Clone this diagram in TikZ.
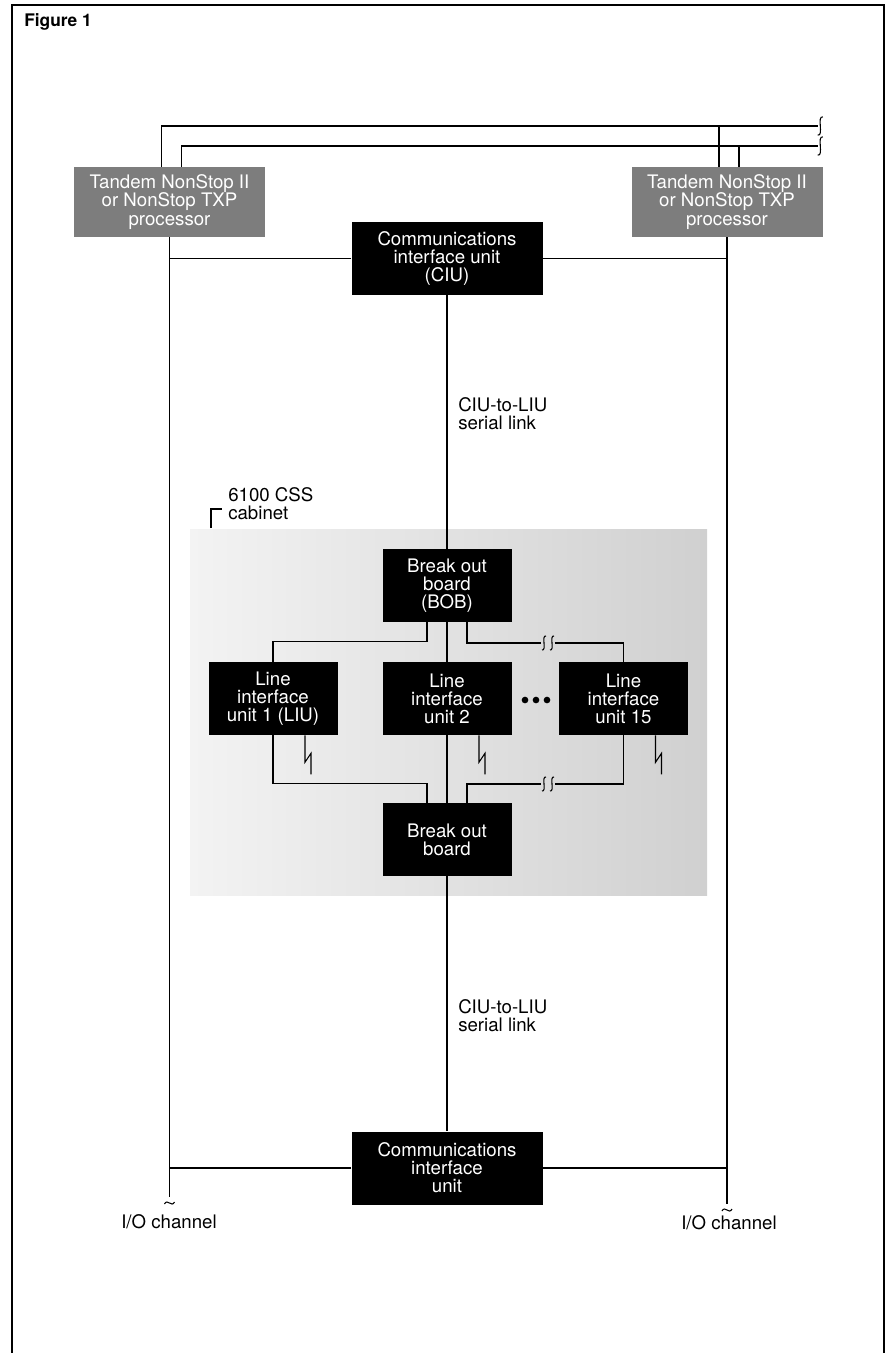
\documentclass[tikz,border=0pt]{standalone}
\usepackage{fontspec}
\setmainfont{TeX Gyre Heros}
\usetikzlibrary{positioning,calc}
\definecolor{procGray}{RGB}{125,125,125}
\definecolor{cabLight}{RGB}{243,243,243}
\definecolor{cabDark}{RGB}{208,208,208}

\begin{document}
\begin{tikzpicture}[x=0.75pt,y=-0.75pt,
    unit/.style={fill=black,text=white,align=center,inner sep=0pt,
                 minimum width=96.75pt,minimum height=54.75pt,
                 font=\fontsize{14}{13.6}\selectfont},
    wide/.style={unit,minimum width=143.25pt},
    proc/.style={wide,fill=procGray,minimum height=52.5pt},
    lbl/.style={align=left,inner sep=0pt,font=\fontsize{14}{13.3}\selectfont},
    wire/.style={line width=0.8pt},
    brk/.pic={\draw[wire] (3,-7) .. controls (-2,-8) and (4,8) .. (-1,7);},
    iobrk/.pic={\draw[wire] (-5,2) .. controls (-2,-4) and (2,6) .. (5,0);}
  ]
  \useasboundingbox (0,0) rectangle (890,1353);
  \fill[white] (0,0) rectangle (890,1353);

  % cabinet area
  \shade[left color=cabLight,right color=cabDark] (190,529) rectangle (707,895);

  % frame
  \draw[line width=1.1pt] (12,1353) -- (12,5) -- (884,5) -- (884,1353);
  \node[anchor=west,inner sep=0pt,font=\bfseries\fontsize{13}{13}\selectfont] (fig) at (24,22) {Figure 1};

  \node[proc] (proc1) at (169.5,202) {Tandem NonStop II\\or NonStop TXP\\processor};
  \node[proc] (proc2) at (727,202) {Tandem NonStop II\\or NonStop TXP\\processor};
  \node[wide] (ciu) at (447,258.5) {Communications\\interface unit\\(CIU)};
  \node[unit] (bob) at (447,585.5) {Break out\\board\\(BOB)};
  \node[unit] (liu1) at (273,698.5) {Line\\interface\\unit 1 (LIU)};
  \node[unit] (liu2) at (447,698.5) {Line\\interface\\unit 2};
  \node[unit] (liu15) at (623.5,698.5) {Line\\interface\\unit 15};
  \node[unit] (bob2) at (447,839.5) {Break out\\board};
  \node[wide] (ciu2) at (447,1168) {Communications\\interface\\unit};

  \node[lbl,anchor=west] (link1) at (458,414) {CIU-to-LIU\\serial link};
  \node[lbl,anchor=west] (link2) at (458,1016) {CIU-to-LIU\\serial link};
  \node[lbl,anchor=west] (cab) at (228,504) {6100 CSS\\cabinet};
  \draw[wire] ($(cab.west)+(-17,24)$) |- ($(cab.west)+(-6,5)$);

  % processor buses
  \coordinate (w1end) at (818,126);
  \coordinate (w2end) at (818,146);
  \coordinate (p2a) at ($(proc2.north)+(-8,0)$);
  \coordinate (p2b) at ($(proc2.north)+(12,0)$);
  \draw[wire] ($(proc1.north)+(-8,0)$) |- (w1end);
  \draw[wire] ($(proc1.north)+(12,0)$) |- (w2end);
  \draw[wire] (p2a) -- (p2a |- w1end);
  \draw[wire] (p2b) -- (p2b |- w2end);
  \pic[scale=1.3] at ($(w1end)+(1,0)$) {brk};
  \pic[scale=1.3] at ($(w2end)+(1,0)$) {brk};

  % I/O channels
  \coordinate (io1) at (169.5,1197);
  \coordinate (io2) at (727,1204);
  \draw[wire] (proc1.south) -- (io1);
  \draw[wire] (proc2.south) -- (io2);
  \pic at ($(io1)+(0,5)$) {iobrk};
  \pic at ($(io2)+(0,5)$) {iobrk};
  \node[lbl] (io1lbl) at (169,1222) {I/O channel};
  \node[lbl] (io2lbl) at (729,1223) {I/O channel};

  \draw[wire] (ciu.west) -- (ciu.west -| proc1.south);
  \draw[wire] (ciu.east) -- (ciu.east -| proc2.south);
  \draw[wire] (ciu2.west) -- (ciu2.west -| proc1.south);
  \draw[wire] (ciu2.east) -- (ciu2.east -| proc2.south);
  \draw[wire] (ciu.south) -- (bob.north);
  \draw[wire] (bob2.south) -- (ciu2.north);

  % line interface units
  \coordinate (bkU) at (547.5,643);
  \coordinate (bkL) at (547.5,784);
  \draw[wire] (bob.south) -- (liu2.north);
  \draw[wire] (liu2.south) -- (bob2.north);
  \draw[wire] ($(bob.south)+(-20,0)$) |- ($(liu1.north)+(0,-20)$) -- (liu1.north);
  \draw[wire] ($(bob.south)+(20,0)$) |- ($(bkU)+(-7,0)$);
  \draw[wire] ($(bkU)+(7,0)$) -| (liu15.north);
  \pic at ($(bkU)+(-4.5,0)$) {brk};
  \pic at ($(bkU)+(3.5,0)$) {brk};
  \draw[wire] (liu1.south) |- ($(bob2.north)+(-20,-19)$) -- ($(bob2.north)+(-20,0)$);
  \draw[wire] (liu15.south) |- ($(bkL)+(7,0)$);
  \draw[wire] ($(bkL)+(-7,0)$) -| ($(bob2.north)+(20,0)$);
  \pic at ($(bkL)+(-4.5,0)$) {brk};
  \pic at ($(bkL)+(3.5,0)$) {brk};
  \foreach \u in {liu1,liu2,liu15}
    \draw[wire] ($(\u.south)+(32,0)$) -- ++(0,27) -- ++(6,-9) -- ++(0,21);
  \foreach \x in {525,536,547}
    \fill (\x,700) circle[radius=2.5pt];
\end{tikzpicture}
\end{document}
